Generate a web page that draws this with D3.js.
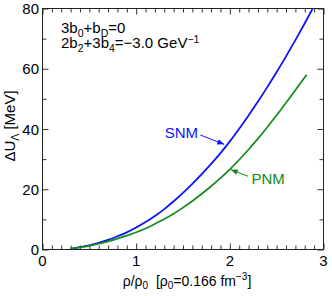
<!DOCTYPE html>
<html>
<head>
<meta charset="utf-8">
<script src="https://cdn.jsdelivr.net/npm/d3@7"></script>
<style>
  body { margin: 0; background: #fff; }
  svg { display: block; font-family: "Liberation Sans", Arial, sans-serif; }
</style>
</head>
<body>
<svg id="chart" width="332" height="296"></svg>
<script>
// density rho/rho0 and Lambda potential shift (MeV)
var snmRho = [0.3, 0.4, 0.5, 0.6, 0.7, 0.8, 0.9, 1.0, 1.1, 1.2, 1.3, 1.4, 1.5, 1.6, 1.7, 1.8, 1.9, 2.0, 2.1, 2.2, 2.3, 2.4, 2.5, 2.6, 2.7, 2.8, 2.9];
var snmU   = [0.3, 0.8, 1.4, 2.2, 3.2, 4.4, 5.7, 7.3, 9.1, 11.1, 13.4, 16.0, 18.8, 21.8, 25.0, 28.4, 32.0, 35.9, 40.1, 44.5, 49.1, 53.9, 58.9, 64.1, 69.5, 75.1, 80.9];
var pnmRho = [0.3, 0.4, 0.5, 0.6, 0.7, 0.8, 0.9, 1.0, 1.1, 1.2, 1.3, 1.4, 1.5, 1.6, 1.7, 1.8, 1.9, 2.0, 2.1, 2.2, 2.3, 2.4, 2.5, 2.6, 2.7, 2.8, 2.82];
var pnmU   = [0.2, 0.7, 1.2, 1.9, 2.7, 3.6, 4.6, 5.7, 7.0, 8.5, 10.1, 11.9, 13.9, 16.1, 18.5, 21.0, 23.7, 26.6, 29.8, 33.2, 36.8, 40.6, 44.6, 48.7, 52.9, 57.2, 58.0];

var xMajor = [0, 1, 2, 3];
var yMajor = [0, 20, 40, 60, 80];

var svg = d3.select('#chart');

// plot frame in pixels
var pLeft = 42.5, pRight = 323.5, pTop = 8.5, pBottom = 249.5;

var x = d3.scaleLinear().domain([0, 3]).range([pLeft, pRight]);
var y = d3.scaleLinear().domain([0, 80]).range([pBottom, pTop]);

var xMinor = d3.range(0, 31).map(function(d) { return d / 10; }).filter(function(d) { return xMajor.indexOf(d) < 0; });
var yMinor = [10, 30, 50, 70];

var defs = svg.append('defs');
defs.append('clipPath').attr('id', 'clip')
  .append('rect').attr('x', pLeft).attr('y', pTop).attr('width', pRight - pLeft).attr('height', pBottom - pTop);

// ticks (all pointing inward)
function tickAxis(axis, tr) {
  var g = svg.append('g').attr('transform', tr).call(axis);
  g.select('.domain').remove();
  g.selectAll('line').attr('stroke', '#333').attr('stroke-width', 1);
  return g;
}
tickAxis(d3.axisBottom(x).tickValues(xMinor).tickSize(-4).tickFormat(''), 'translate(0,' + pBottom + ')');
tickAxis(d3.axisBottom(x).tickValues(xMajor).tickSize(-6).tickFormat(''), 'translate(0,' + pBottom + ')');
tickAxis(d3.axisTop(x).tickValues(xMinor).tickSize(-4).tickFormat(''), 'translate(0,' + pTop + ')');
tickAxis(d3.axisTop(x).tickValues(xMajor).tickSize(-6).tickFormat(''), 'translate(0,' + pTop + ')');
tickAxis(d3.axisLeft(y).tickValues(yMinor).tickSize(-4).tickFormat(''), 'translate(' + pLeft + ',0)');
tickAxis(d3.axisLeft(y).tickValues(yMajor).tickSize(-6).tickFormat(''), 'translate(' + pLeft + ',0)');
tickAxis(d3.axisRight(y).tickValues(yMinor).tickSize(-4).tickFormat(''), 'translate(' + pRight + ',0)');
tickAxis(d3.axisRight(y).tickValues(yMajor).tickSize(-6).tickFormat(''), 'translate(' + pRight + ',0)');

// frame
svg.append('rect')
  .attr('x', pLeft).attr('y', pTop)
  .attr('width', pRight - pLeft).attr('height', pBottom - pTop)
  .attr('fill', 'none').attr('stroke', '#222').attr('stroke-width', 1);

// tick labels
svg.append('g').selectAll('text').data(xMajor).join('text')
  .attr('x', function(d) { return x(d); })
  .attr('y', 266)
  .attr('text-anchor', 'middle')
  .attr('font-size', 15)
  .text(function(d) { return d; });

svg.append('g').selectAll('text').data(yMajor).join('text')
  .attr('x', 39)
  .attr('y', function(d) { return y(d) + 5.5; })
  .attr('text-anchor', 'end')
  .attr('font-size', 15)
  .text(function(d) { return d; });

// curves
var line = d3.line()
  .x(function(d) { return x(d[0]); })
  .y(function(d) { return y(d[1]); })
  .curve(d3.curveMonotoneX);

var curves = svg.append('g').attr('clip-path', 'url(#clip)');
curves.append('path')
  .datum(d3.zip(snmRho, snmU))
  .attr('fill', 'none').attr('stroke', '#0a14ff').attr('stroke-width', 1.8)
  .attr('d', line);
curves.append('path')
  .datum(d3.zip(pnmRho, pnmU))
  .attr('fill', 'none').attr('stroke', '#138a1a').attr('stroke-width', 1.7)
  .attr('d', line);

// arrow markers
[['arrB', '#0a14ff'], ['arrG', '#138a1a']].forEach(function(m) {
  defs.append('marker')
    .attr('id', m[0]).attr('viewBox', '0 0 10 10')
    .attr('refX', 10).attr('refY', 5)
    .attr('markerWidth', 7).attr('markerHeight', 7)
    .attr('markerUnits', 'userSpaceOnUse')
    .attr('orient', 'auto')
    .append('path').attr('d', 'M0,1 L10,5 L0,9 Z').attr('fill', m[1]);
});

// annotations
svg.append('text')
  .attr('x', x(1.66)).attr('y', y(37.1))
  .attr('text-anchor', 'end').attr('font-size', 15).attr('fill', '#0a14ff')
  .text('SNM');
svg.append('line')
  .attr('x1', x(1.685)).attr('y1', y(38.0))
  .attr('x2', x(1.94)).attr('y2', y(34.9))
  .attr('stroke', '#0a14ff').attr('stroke-width', 1)
  .attr('marker-end', 'url(#arrB)');

svg.append('text')
  .attr('x', x(2.23)).attr('y', y(21.6))
  .attr('font-size', 15).attr('fill', '#138a1a')
  .text('PNM');
svg.append('line')
  .attr('x1', x(2.195)).attr('y1', y(24.3))
  .attr('x2', x(2.01)).attr('y2', y(26.5))
  .attr('stroke', '#138a1a').attr('stroke-width', 1)
  .attr('marker-end', 'url(#arrG)');

// parameter text
var t1 = svg.append('text').attr('x', 61).attr('y', 33).attr('font-size', 15);
t1.append('tspan').text('3b');
t1.append('tspan').attr('font-size', 10.5).attr('dy', 4).text('0');
t1.append('tspan').attr('dy', -4).text('+b');
t1.append('tspan').attr('font-size', 10.5).attr('dy', 4).text('D');
t1.append('tspan').attr('dy', -4).text('=0');

var t2 = svg.append('text').attr('x', 61).attr('y', 48).attr('font-size', 15);
t2.append('tspan').text('2b');
t2.append('tspan').attr('font-size', 10.5).attr('dy', 4).text('2');
t2.append('tspan').attr('dy', -4).text('+3b');
t2.append('tspan').attr('font-size', 10.5).attr('dy', 4).text('4');
t2.append('tspan').attr('dy', -4).text('=\u22123.0 GeV');
t2.append('tspan').attr('font-size', 10.5).attr('dy', -5).text('\u22121');

// axis titles
var xt = svg.append('text').attr('x', 187).attr('y', 286)
  .attr('text-anchor', 'middle').attr('font-size', 14);
xt.append('tspan').text('\u03c1/\u03c1');
xt.append('tspan').attr('font-size', 10).attr('dy', 3).text('0');
xt.append('tspan').attr('dy', -3).attr('xml:space', 'preserve').text('  [\u03c1');
xt.append('tspan').attr('font-size', 10).attr('dy', 3).text('0');
xt.append('tspan').attr('dy', -3).text('=0.166 fm');
xt.append('tspan').attr('font-size', 10).attr('dy', -6).text('\u22123');
xt.append('tspan').attr('dy', 6).text(']');

var yt = svg.append('text')
  .attr('transform', 'translate(15,' + 126 + ') rotate(-90)')
  .attr('text-anchor', 'middle').attr('font-size', 15);
yt.append('tspan').text('\u0394U');
yt.append('tspan').attr('font-size', 10.5).attr('dy', 4).text('\u039b');
yt.append('tspan').attr('dy', -4).text(' [MeV]');
</script>
</body>
</html>
